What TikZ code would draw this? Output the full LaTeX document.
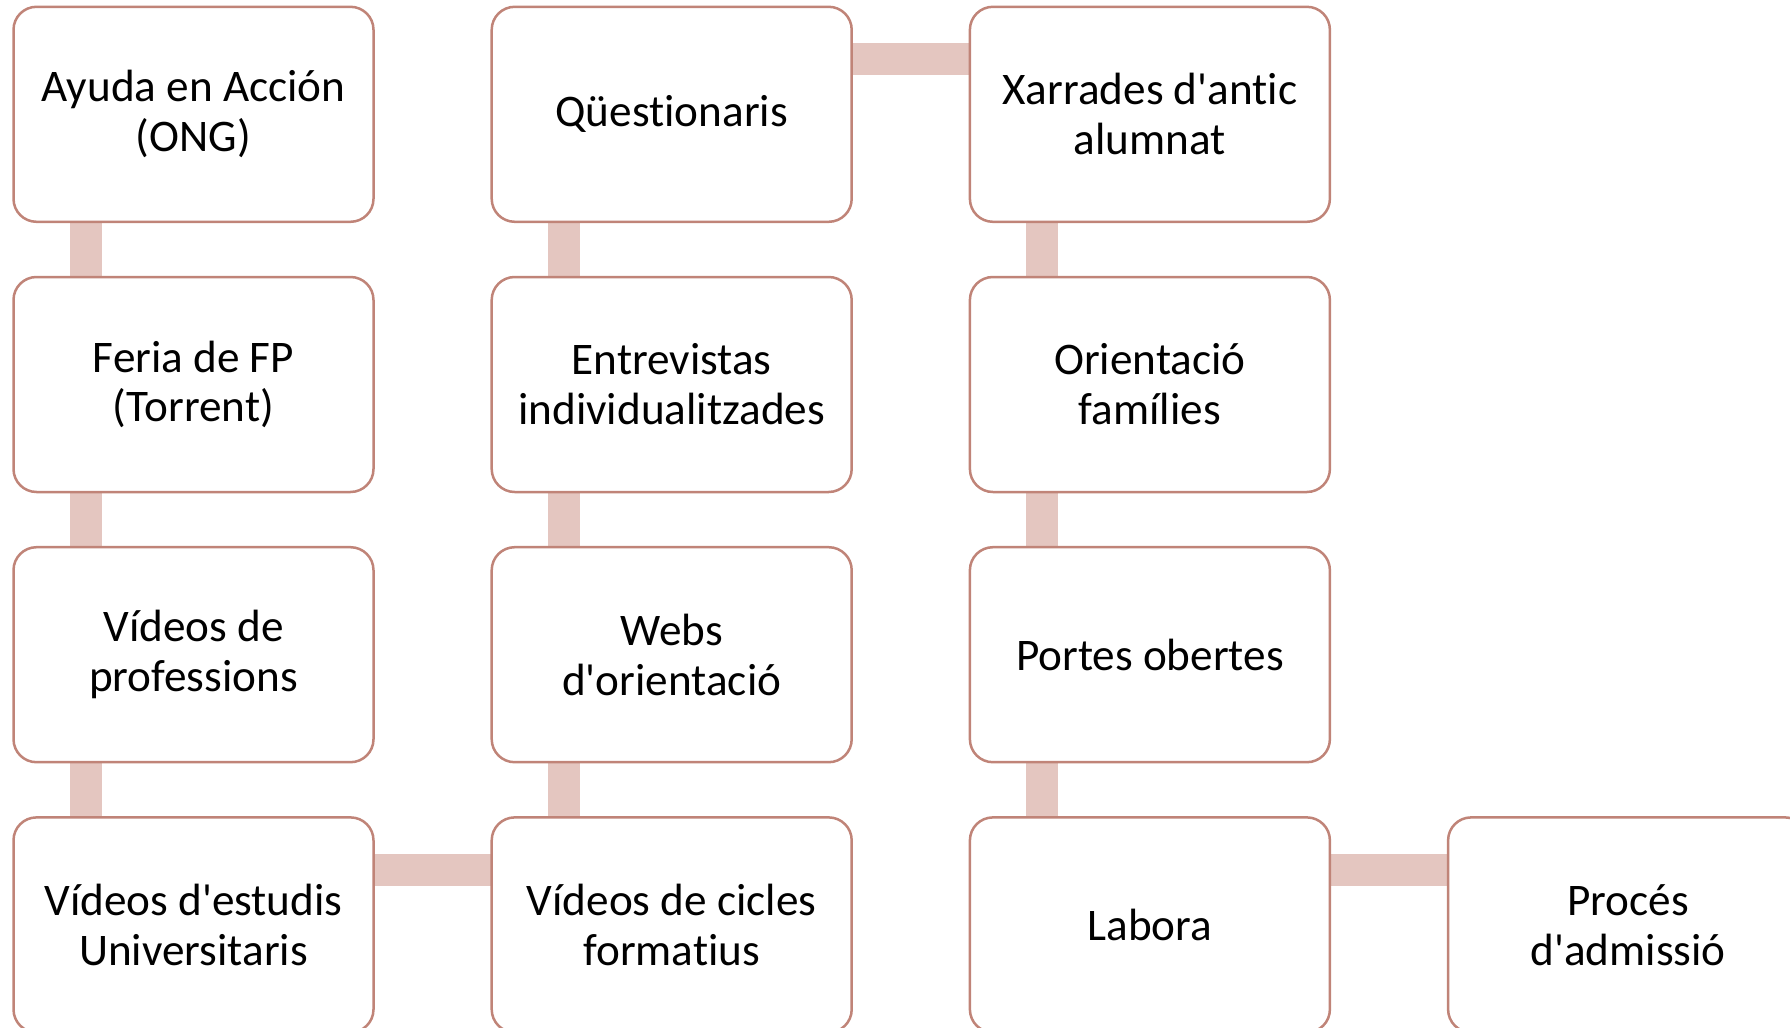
\documentclass[tikz,border=0pt]{standalone}
\usepackage{fontspec}
\setmainfont{Carlito}[Ligatures={TeXReset,NoCommon}]
\usepackage{tikz}
\usetikzlibrary{positioning,backgrounds}
\usepackage{xcolor}
\definecolor{boxline}{RGB}{192,132,120}
\definecolor{barfill}{RGB}{228,198,192}
\tikzset{
  activity/.style={
    rectangle,
    rounded corners=11.5pt,
    minimum width=180pt,
    minimum height=107.5pt,
    align=center,
    line width=1.25pt,
    outer sep=0pt,
    draw=boxline,
    fill=white,
    font=\fontsize{22.6pt}{24.9pt}\selectfont
    },
  link/.style={line width=16pt, draw=barfill},
}

\begin{document}
\begin{tikzpicture}[node distance=27.6pt and 59.1pt]
    \useasboundingbox (0,0) rectangle (895pt,-514pt);

    % First column
    \node[activity] (A-1) at (96.75pt,-57.15pt) {Ayuda en Acción\\(ONG)};
    \node[activity, below=of A-1] (A-2) {Feria de FP\\(Torrent)};
    \node[activity, below=of A-2] (A-3) {Vídeos de\\professions};
    \node[activity, below=of A-3] (A-4) {Vídeos d'estudis\\Universitaris};

    % Second column
    \node[activity, right=of A-1] (B-1) {Qüestionaris};
    \node[activity, below=of B-1] (B-2) {Entrevistas\\individualitzades};
    \node[activity, below=of B-2] (B-3) {Webs\\d'orientació};
    \node[activity, below=of B-3] (B-4) {Vídeos de cicles\\formatius};

    % Third column
    \node[activity, right=of B-1] (C-1) {Xarrades d'antic\\alumnat};
    \node[activity, below=of C-1] (C-2) {Orientació\\famílies};
    \node[activity, below=of C-2] (C-3) {Portes obertes};
    \node[activity, below=of C-3] (C-4) {Labora};

    % Last one
    \node[activity, right=of C-4] (D-4) {Procés\\d'admissió};

    \begin{scope}[on background layer]
    % Bars down each column
    \foreach \col in {A,B,C}
        \foreach \r/\s in {1/2,2/3,3/4}
            \draw[link] ([xshift=36pt]\col-\r.south west) -- ([xshift=36pt]\col-\s.north west);

    % Bars across
    \draw[link] ([yshift=-26.25pt]A-4.north east) -- ([yshift=-26.25pt]B-4.north west);
    \draw[link] ([yshift=-26.25pt]B-1.north east) -- ([yshift=-26.25pt]C-1.north west);
    \draw[link] ([yshift=-26.25pt]C-4.north east) -- ([yshift=-26.25pt]D-4.north west);
    \end{scope}
\end{tikzpicture}
\end{document}
